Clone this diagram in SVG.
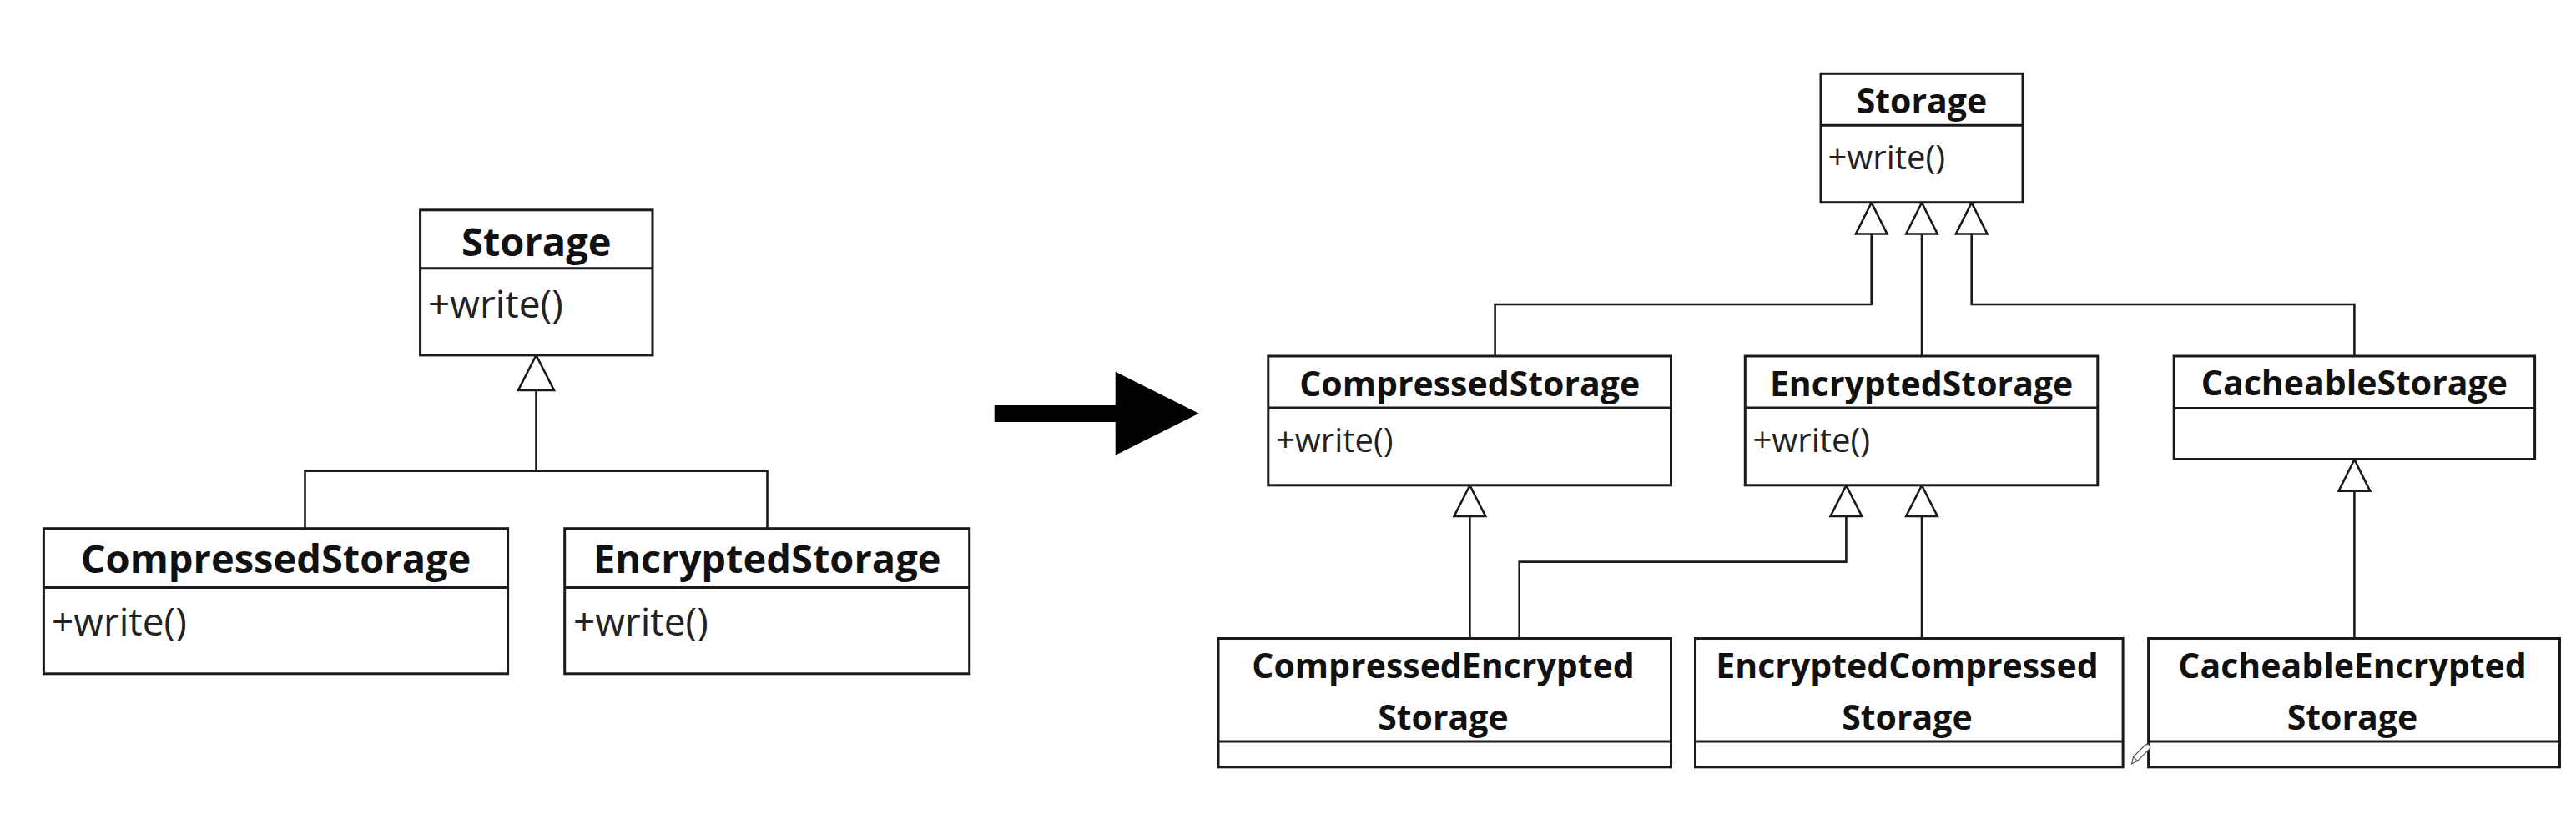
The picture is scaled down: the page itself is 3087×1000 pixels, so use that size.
<svg xmlns="http://www.w3.org/2000/svg" width="3087" height="1000" viewBox="0 0 3087 1000">
  <style>
    .box { fill: #ffffff; stroke: #1a1a1a; stroke-width: 3; }
    .div { stroke: #1a1a1a; stroke-width: 3; fill: none; }
    .conn { stroke: #1a1a1a; stroke-width: 2.6; fill: none; }
    .tri { fill: #ffffff; stroke: #1a1a1a; stroke-width: 2.6; stroke-linejoin: miter; }
    .tl { font-family: "Open Sans", "Noto Sans", "DejaVu Sans", sans-serif; font-weight: bold; font-size: 47px; fill: #111; text-anchor: middle; }
    .ml { font-family: "Open Sans", "Noto Sans", "DejaVu Sans", sans-serif; font-size: 46px; fill: #222; }
    .tr { font-family: "Open Sans", "Noto Sans", "DejaVu Sans", sans-serif; font-weight: bold; font-size: 41px; fill: #111; text-anchor: middle; }
    .mr { font-family: "Open Sans", "Noto Sans", "DejaVu Sans", sans-serif; font-size: 40px; fill: #222; }
  </style>
  <rect width="3087" height="1000" fill="#ffffff"/>

  <!-- Connectors -->
  <g id="connectors">
    <!-- left diagram -->
    <path class="conn" d="M365.5,633.7 V564.8 H919.5 V633.7 M642.5,564.8 V468"/>
    <polygon class="tri" points="642.5,426 621,468 664,468"/>
    <!-- right diagram -->
    <path class="conn" d="M1791.6,427 V365 H2242.7 V280"/>
    <path class="conn" d="M2303,427 V280"/>
    <path class="conn" d="M2821.4,427 V365 H2362.7 V280"/>
    <polygon class="tri" points="2242.7,243 2223.9,280.5 2261.5,280.5"/>
    <polygon class="tri" points="2303,243 2284.2,280.5 2321.8,280.5"/>
    <polygon class="tri" points="2362.7,243 2343.9,280.5 2381.5,280.5"/>
    <path class="conn" d="M1761.4,765.5 V619"/>
    <polygon class="tri" points="1761.4,582 1742.6,619 1780.2,619"/>
    <path class="conn" d="M1820.7,765.5 V673.6 H2212.4 V619"/>
    <polygon class="tri" points="2212.4,582 2193.6,619 2231.2,619"/>
    <path class="conn" d="M2303,765.5 V619"/>
    <polygon class="tri" points="2303,582 2284.2,619 2321.8,619"/>
    <path class="conn" d="M2821.4,766 V588.7"/>
    <polygon class="tri" points="2821.4,551 2802.6,588.7 2840.2,588.7"/>
  </g>

  <!-- Left diagram nodes -->
  <g id="left-storage">
    <rect class="box" x="503.6" y="251.8" width="278.4" height="174.1"/>
    <line class="div" x1="503.6" y1="321.8" x2="782" y2="321.8"/>
    <text class="tl" x="642.8" y="306.5">Storage</text>
    <text class="ml" x="513" y="381">+write()</text>
  </g>
  <g id="left-compressed">
    <rect class="box" x="52.4" y="633.7" width="556.2" height="174.1"/>
    <line class="div" x1="52.4" y1="704.5" x2="608.6" y2="704.5"/>
    <text class="tl" x="330.5" y="687.3">CompressedStorage</text>
    <text class="ml" x="62" y="761.9">+write()</text>
  </g>
  <g id="left-encrypted">
    <rect class="box" x="676.7" y="633.7" width="485" height="174.1"/>
    <line class="div" x1="676.7" y1="704.5" x2="1161.7" y2="704.5"/>
    <text class="tl" x="919.2" y="687.3">EncryptedStorage</text>
    <text class="ml" x="687" y="761.9">+write()</text>
  </g>

  <!-- Big arrow -->
  <g id="transform-arrow">
    <rect x="1191.7" y="486" width="146" height="20" fill="#000"/>
    <polygon points="1336.7,445.7 1436.7,495.7 1336.7,545.7" fill="#000"/>
  </g>

  <!-- Right diagram nodes -->
  <g id="right-storage">
    <rect class="box" x="2182" y="88.3" width="242" height="154.4"/>
    <line class="div" x1="2182" y1="150.3" x2="2424" y2="150.3"/>
    <text class="tr" x="2303" y="136">Storage</text>
    <text class="mr" x="2190.5" y="203.3">+write()</text>
  </g>
  <g id="right-compressed">
    <rect class="box" x="1519.8" y="427" width="482.7" height="154.8"/>
    <line class="div" x1="1519.8" y1="489" x2="2002.5" y2="489"/>
    <text class="tr" x="1761.2" y="474.6">CompressedStorage</text>
    <text class="mr" x="1529" y="542.3">+write()</text>
  </g>
  <g id="right-encrypted">
    <rect class="box" x="2091.3" y="427" width="422.5" height="154.8"/>
    <line class="div" x1="2091.3" y1="489" x2="2513.8" y2="489"/>
    <text class="tr" x="2302.6" y="474.6">EncryptedStorage</text>
    <text class="mr" x="2100.5" y="542.3">+write()</text>
  </g>
  <g id="right-cacheable">
    <rect class="box" x="2605.2" y="427" width="432.4" height="123.5"/>
    <line class="div" x1="2605.2" y1="489.5" x2="3037.6" y2="489.5"/>
    <text class="tr" x="2821.4" y="474.3">CacheableStorage</text>
  </g>
  <g id="right-compressed-encrypted">
    <rect class="box" x="1460" y="765.5" width="542.5" height="154.3"/>
    <line class="div" x1="1460" y1="889" x2="2002.5" y2="889"/>
    <text class="tr" x="1729.5" y="812.5">CompressedEncrypted</text>
    <text class="tr" x="1729.5" y="874.5">Storage</text>
  </g>
  <g id="right-encrypted-compressed">
    <rect class="box" x="2031.5" y="765.5" width="512.6" height="154.3"/>
    <line class="div" x1="2031.5" y1="889" x2="2544.1" y2="889"/>
    <text class="tr" x="2285.5" y="812.5">EncryptedCompressed</text>
    <text class="tr" x="2285.5" y="874.5">Storage</text>
  </g>
  <g id="right-cacheable-encrypted">
    <rect class="box" x="2574.6" y="765.5" width="492.9" height="154.3"/>
    <line class="div" x1="2574.6" y1="889" x2="3067.5" y2="889"/>
    <text class="tr" x="2819" y="812.5">CacheableEncrypted</text>
    <text class="tr" x="2819" y="874.5">Storage</text>
  </g>

  <!-- small pencil glyph -->
  <g id="pencil" fill="#ffffff" stroke="#555" stroke-width="1.2">
    <path d="M2554.5,916 L2556.5,907.5 L2570.5,893.5 A3,3 0 0 1 2575.5,898.5 L2561.5,912.5 Z"/>
    <path d="M2556.5,907.5 L2561.5,912.5" fill="none"/>
  </g>
</svg>
